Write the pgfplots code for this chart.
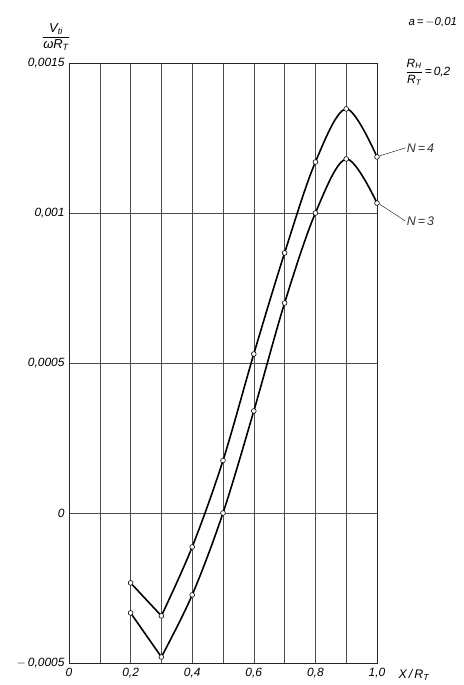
\documentclass[border=0pt]{standalone}
\usepackage{fontspec}
\setmainfont{Liberation Sans}
\usepackage{amsmath}
\usepackage{pgfplots}
\pgfplotsset{compat=1.18}
\pgfplotstableread{
x y
0.2 -0.000233
0.3 -0.000343
0.4 -0.000113
0.5 0.000175
0.6 0.000530
0.7 0.000867
0.8 0.001170
0.9 0.001347
1.0 0.001187
}\nfour
\pgfplotstableread{
x y
0.2 -0.000333
0.3 -0.000480
0.4 -0.000273
0.5 0.000000
0.6 0.000340
0.7 0.000700
0.8 0.001000
0.9 0.001180
1.0 0.001033
}\nthree
\begin{document}
\begin{tikzpicture}
\useasboundingbox (0,0) rectangle (464bp,685bp);
\begin{axis}[
  at={(69bp,22bp)}, anchor=south west,
  scale only axis, width=308bp, height=600bp,
  xmin=0, xmax=1, ymin=-0.0005, ymax=0.0015,
  xtick={0,0.1,...,1.0},
  xticklabels={0,,{0,2},,{0,4},,{0,6},,{0,8},,{1,0}},
  ytick={-0.0005,0,0.0005,0.001,0.0015},
  yticklabels={{$-$\,0,0005},0,{0,0005},{0,001},{0,0015}},
  scaled y ticks=false,
  tick style={draw=none},
  grid=major,
  major grid style={line width=0.6pt, draw=black!70},
  axis line style={line width=0.8pt, draw=black!85},
  tick label style={font=\itshape\fontsize{12}{14}\selectfont},
  xticklabel style={yshift=-2bp},
  yticklabel style={xshift=-1bp},
  clip=false,
]
% N=4
\addplot[black, line width=1.6pt, mark=none] table[x=x,y=y] {
x y
0.2 -0.000233
0.3 -0.000343
};
\addplot[black, line width=1.6pt, smooth, tension=0.55, mark=none] table[x=x,y=y] {
x y
0.3 -0.000343
0.4 -0.000113
0.5 0.000175
0.6 0.000530
0.7 0.000867
0.8 0.001170
0.9 0.001347
1.0 0.001187
};
% N=3
\addplot[black, line width=1.6pt, mark=none] table[x=x,y=y] {
x y
0.2 -0.000333
0.3 -0.000480
};
\addplot[black, line width=1.6pt, smooth, tension=0.55, mark=none] table[x=x,y=y] {
x y
0.3 -0.000480
0.4 -0.000273
0.5 0.000000
0.6 0.000340
0.7 0.000700
0.8 0.001000
0.9 0.001180
1.0 0.001033
};
% marks
\addplot[only marks, mark=*, mark size=2.4pt, mark options={fill=white, draw=black, line width=0.6pt}] table[x=x,y=y] {\nfour};
\addplot[only marks, mark=*, mark size=2.4pt, mark options={fill=white, draw=black, line width=0.6pt}] table[x=x,y=y] {\nthree};
% leaders and labels
\draw[line width=0.5pt, black!80] (axis cs:1.0,0.001187) ++(2.5bp,1bp) -- ++(26bp,8bp) node[right, inner sep=1bp, font=\itshape\fontsize{12.5}{14}\selectfont] {N\,=\,4};
\draw[line width=0.5pt, black!80] (axis cs:1.0,0.001033) ++(2.5bp,-1bp) -- ++(26bp,-17bp) node[right, inner sep=1bp, font=\itshape\fontsize{12.5}{14}\selectfont] {N\,=\,3};
\node[anchor=west, font=\itshape\fontsize{12.5}{14}\selectfont] at (axis cs:1.0,-0.0005) [xshift=18bp, yshift=-12bp] {X\,/\,R\textsubscript{T}};
\end{axis}
\node[font=\itshape\fontsize{13}{15}\selectfont] at (56bp,648bp) {$\dfrac{\textit{V}_{\textit{ti}}}{\textit{ωR}_{\textit{T}}}$};
\node[anchor=west, font=\itshape\fontsize{11.5}{13}\selectfont] at (405bp,663bp) {a\,=\,$-$0,01};
\node[anchor=west, font=\itshape\fontsize{12}{14}\selectfont] at (402bp,613bp) {$\dfrac{\textit{R}_{\textit{H}}}{\textit{R}_{\textit{T}}}$\,=\,0,2};
\end{tikzpicture}
\end{document}
